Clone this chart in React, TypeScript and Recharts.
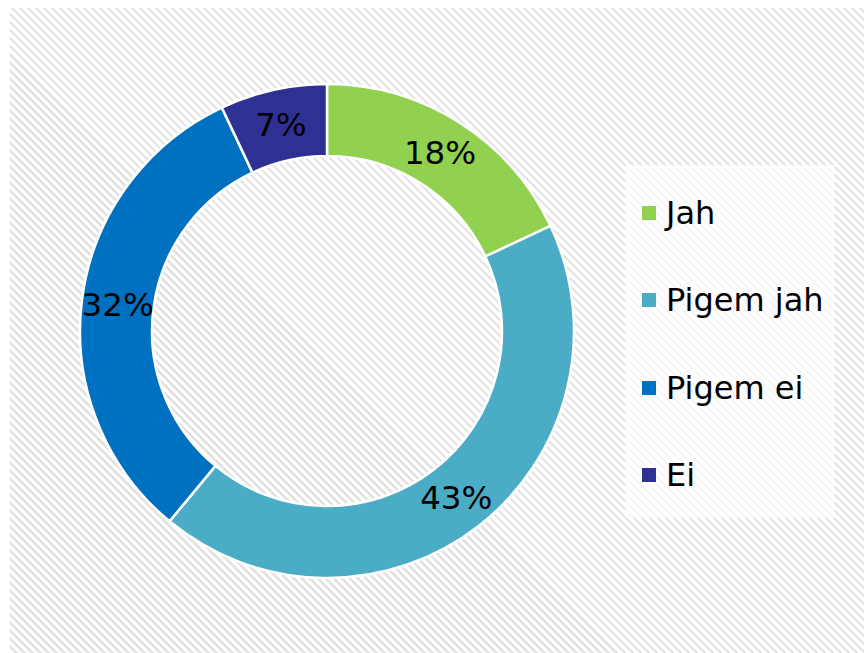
import React from "react";
import { PieChart, Pie, Cell, Legend } from "recharts";

const categories = ["Jah", "Pigem jah", "Pigem ei", "Ei"];
const values = [18, 43, 32, 7];
const labels = ["18%", "43%", "32%", "7%"];
const colors = ["#92D050", "#4BACC6", "#0070C0", "#2E3192"];

const data = categories.map((name, i) => ({ name, value: values[i], label: labels[i] }));

const FONT = "'DejaVu Sans', Verdana, sans-serif";
const RAD = Math.PI / 180;

const renderLabel = (props: any) => {
  const { cx, cy, midAngle, innerRadius, outerRadius, index } = props;
  const r = (innerRadius + outerRadius) / 2;
  const x = cx + r * Math.cos(-midAngle * RAD);
  const y = cy + r * Math.sin(-midAngle * RAD);
  return (
    <text x={x} y={y} textAnchor="middle" dominantBaseline="central" fill="#000" fontFamily={FONT} fontSize={32.5}>
      {labels[index]}
    </text>
  );
};

const LegendContent = () => (
  <div
    style={{
      width: 210,
      height: 353,
      background: "rgba(255,255,255,0.7)",
      boxSizing: "border-box",
      paddingTop: 4,
      paddingLeft: 17,
      fontFamily: FONT,
    }}
  >
    {categories.map((c, i) => (
      <div key={c} style={{ display: "flex", alignItems: "center", height: 87.5 }}>
        <div style={{ width: 14, height: 14, background: colors[i], marginRight: 10, flexShrink: 0 }} />
        <span style={{ fontSize: 32, color: "#000", lineHeight: "40px", whiteSpace: "nowrap" }}>{c}</span>
      </div>
    ))}
  </div>
);

export default function App() {
  return (
    <div style={{ position: "absolute", left: 0, top: 0, width: 864, height: 653, background: "#fff", overflow: "hidden" }}>
      <div
        style={{
          position: "absolute",
          left: 10,
          top: 8,
          width: 854,
          height: 645,
          backgroundImage: "repeating-linear-gradient(45deg, #ffffff 0px, #ffffff 3.3px, #e4e4e4 3.3px, #e4e4e4 5.66px)",
        }}
      />
      <div style={{ position: "absolute", left: 0, top: 0 }}>
        <PieChart width={864} height={653} margin={{ top: 0, right: 0, bottom: 0, left: 0 }}>
          <Pie
            data={data}
            dataKey="value"
            nameKey="name"
            cx={327}
            cy={331}
            innerRadius={175}
            outerRadius={247}
            startAngle={90}
            endAngle={-270}
            stroke="#fff"
            strokeWidth={2.5}
            label={renderLabel}
            labelLine={false}
            isAnimationActive={false}
          >
            {data.map((d, i) => (
              <Cell key={d.name} fill={colors[i]} />
            ))}
          </Pie>
          <Legend
            layout="vertical"
            content={<LegendContent />}
            wrapperStyle={{ position: "absolute", left: 625, top: 165, width: 210, height: 353 }}
          />
        </PieChart>
      </div>
    </div>
  );
}
